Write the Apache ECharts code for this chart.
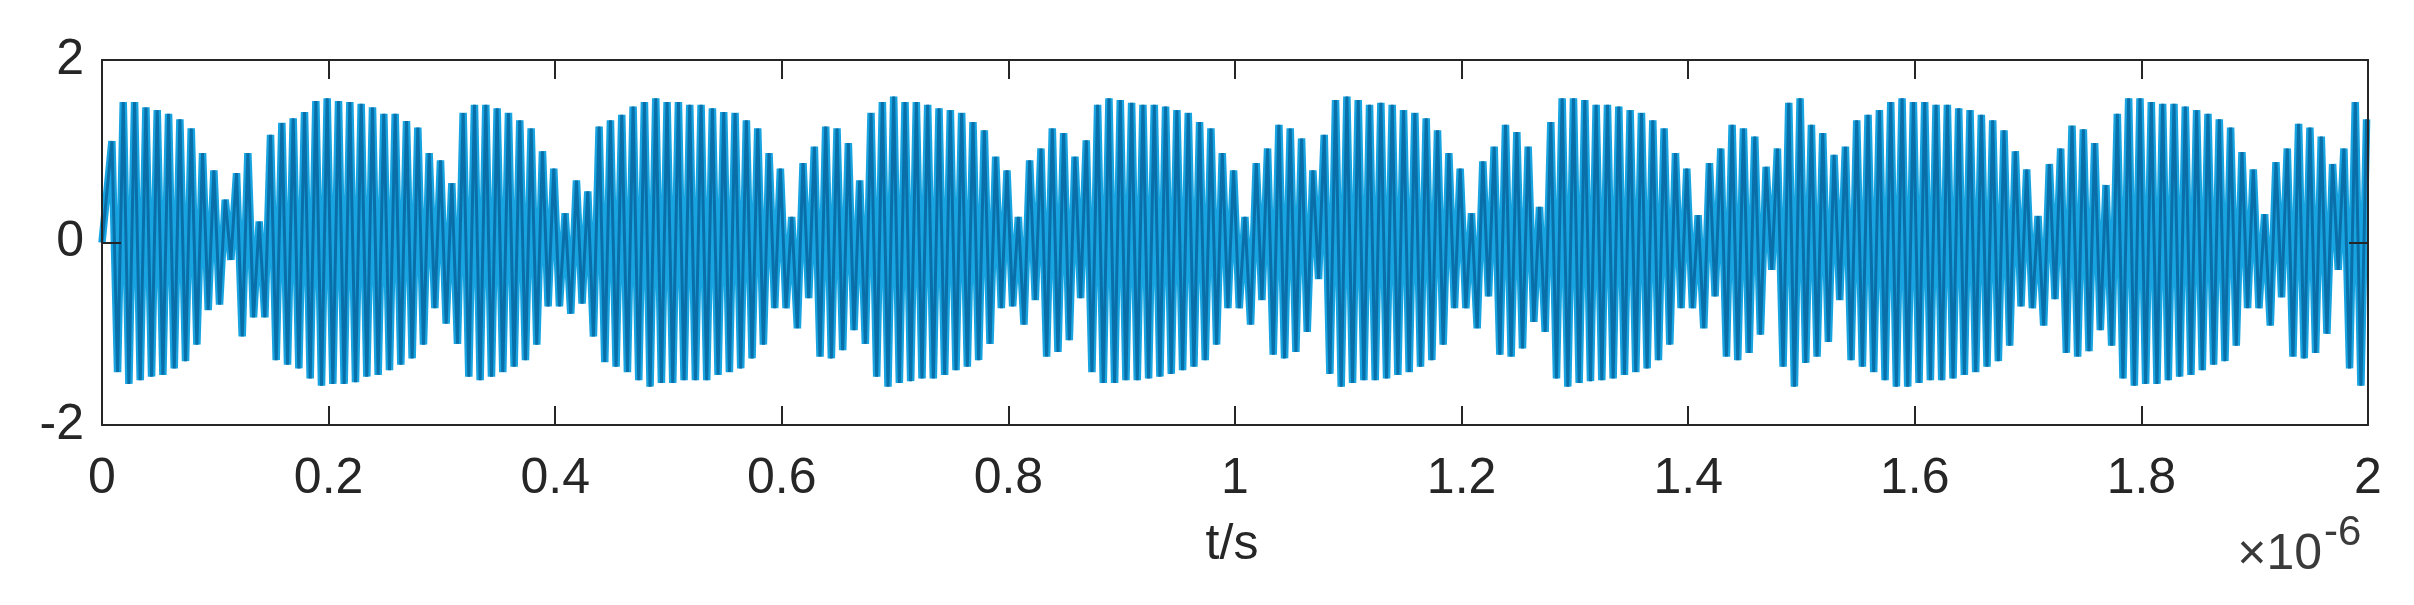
<!DOCTYPE html>
<html>
<head>
<meta charset="utf-8">
<script src="https://cdn.jsdelivr.net/npm/echarts@6/dist/echarts.min.js"></script>
<style>
  html, body { margin: 0; padding: 0; background: #ffffff; }
  #chart { width: 2414px; height: 605px; }
</style>
</head>
<body>
<div id="chart"></div>
<script>
// Carrier cycle length on the time axis (in units of 1e-6 s); one peak and one trough per cycle.
const cyclePeriod = 0.01;

// Positive peak of each carrier cycle
const peakValues = [
  1.11,1.54,1.54,1.48,1.45,1.41,1.35,1.25,0.98,0.79,
  0.47,0.76,0.98,0.23,1.18,1.31,1.36,1.43,1.55,1.58,
  1.55,1.54,1.52,1.48,1.41,1.41,1.33,1.26,0.98,0.90,
  0.65,1.42,1.51,1.51,1.47,1.42,1.34,1.25,1.00,0.81,
  0.32,0.68,0.56,1.27,1.34,1.40,1.49,1.54,1.58,1.54,
  1.54,1.51,1.51,1.47,1.43,1.42,1.34,1.25,0.98,0.81,
  0.28,0.87,1.05,1.27,1.25,1.09,0.68,1.42,1.54,1.60,
  1.54,1.54,1.51,1.47,1.45,1.42,1.32,1.23,0.94,0.79,
  0.28,0.90,1.03,1.25,1.20,0.94,1.12,1.51,1.58,1.56,
  1.53,1.51,1.51,1.49,1.45,1.42,1.32,1.25,0.98,0.79,
  0.28,0.87,1.03,1.29,1.25,1.14,0.79,1.18,1.56,1.60,
  1.56,1.51,1.53,1.51,1.45,1.42,1.36,1.23,0.98,0.81,
  0.32,0.89,1.05,1.29,1.21,1.05,0.39,1.32,1.58,1.58,
  1.56,1.51,1.51,1.49,1.45,1.42,1.34,1.25,0.98,0.81,
  0.30,0.87,1.03,1.29,1.25,1.16,0.83,1.03,1.53,1.58,
  1.29,1.20,0.96,1.05,1.34,1.40,1.45,1.54,1.58,1.54,
  1.54,1.51,1.51,1.47,1.45,1.40,1.34,1.23,1.00,0.80,
  0.29,0.86,1.03,1.28,1.24,1.09,0.63,1.41,1.58,1.58,
  1.54,1.52,1.52,1.49,1.45,1.41,1.35,1.26,0.99,0.80,
  0.31,0.88,1.03,1.30,1.26,1.16,0.86,1.03,1.54,1.35
];

// Negative trough of each carrier cycle
const troughValues = [
  -1.42,-1.55,-1.51,-1.47,-1.45,-1.38,-1.30,-1.12,-0.74,-0.68,
  -0.19,-1.03,-0.82,-0.82,-1.29,-1.34,-1.38,-1.49,-1.57,-1.55,
  -1.55,-1.53,-1.47,-1.45,-1.40,-1.34,-1.27,-1.12,-0.72,-0.89,
  -1.11,-1.47,-1.51,-1.47,-1.42,-1.36,-1.29,-1.12,-0.70,-0.70,
  -0.78,-0.67,-1.03,-1.31,-1.36,-1.42,-1.51,-1.58,-1.54,-1.54,
  -1.51,-1.51,-1.51,-1.45,-1.42,-1.38,-1.27,-1.12,-0.72,-0.72,
  -0.94,-0.61,-1.25,-1.27,-1.18,-0.96,-1.11,-1.47,-1.58,-1.54,
  -1.52,-1.49,-1.49,-1.45,-1.40,-1.36,-1.29,-1.11,-0.72,-0.70,
  -0.90,-0.63,-1.25,-1.20,-1.07,-0.61,-1.42,-1.54,-1.54,-1.51,
  -1.51,-1.49,-1.47,-1.44,-1.40,-1.36,-1.29,-1.12,-0.72,-0.72,
  -0.90,-0.63,-1.23,-1.27,-1.20,-0.98,-0.40,-1.44,-1.58,-1.54,
  -1.51,-1.51,-1.49,-1.45,-1.42,-1.36,-1.29,-1.12,-0.72,-0.72,
  -0.94,-0.59,-1.23,-1.25,-1.16,-0.87,-0.98,-1.49,-1.58,-1.54,
  -1.52,-1.51,-1.49,-1.45,-1.42,-1.38,-1.29,-1.12,-0.72,-0.72,
  -0.94,-0.59,-1.25,-1.29,-1.21,-1.01,-0.30,-1.36,-1.58,-1.32,
  -1.25,-1.09,-0.63,-1.29,-1.36,-1.42,-1.51,-1.58,-1.58,-1.54,
  -1.51,-1.51,-1.49,-1.45,-1.42,-1.36,-1.30,-1.13,-0.70,-0.72,
  -0.91,-0.62,-1.21,-1.25,-1.19,-0.96,-1.13,-1.49,-1.57,-1.55,
  -1.55,-1.51,-1.47,-1.45,-1.40,-1.34,-1.30,-1.13,-0.72,-0.72,
  -0.91,-0.60,-1.25,-1.27,-1.21,-1.00,-0.30,-1.38,-1.57
];

const startValue = 0;

// Tick labels
const xTicks = [0, 0.2, 0.4, 0.6, 0.8, 1, 1.2, 1.4, 1.6, 1.8, 2];
const yTicks = [-2, 0, 2];
const xAxisTitle = 't/s';
const xExponentBase = '×10';
const xExponent = '-6';

// Build the sampled signal (time on the 1e-6 s grid)
const signal = [[0, startValue]];
for (let k = 0; k < peakValues.length; k++) {
  signal.push([(k + 0.875) * cyclePeriod, peakValues[k]]);
  if (k < troughValues.length) {
    signal.push([(k + 1.375) * cyclePeriod, troughValues[k]]);
  }
}

const FONT = "'Liberation Sans', Arial, Helvetica, sans-serif";
const INK = '#262626';

const xStep = xTicks[1] - xTicks[0];
const yStep = yTicks[1] - yTicks[0];

function xAxisDef(pos, showLabel) {
  return {
    type: 'value',
    position: pos,
    min: xTicks[0],
    max: xTicks[xTicks.length - 1],
    interval: xStep,
    axisLine: { show: true, onZero: false, lineStyle: { color: INK, width: 2 } },
    axisTick: { show: true, inside: true, length: 19, lineStyle: { color: INK, width: 2 } },
    axisLabel: {
      show: showLabel, fontSize: 50, color: INK, fontFamily: FONT, margin: 29,
      formatter: v => String(+v.toFixed(1))
    },
    splitLine: { show: false },
    z: 5
  };
}
function yAxisDef(pos, showLabel) {
  return {
    type: 'value',
    position: pos,
    min: yTicks[0],
    max: yTicks[yTicks.length - 1],
    interval: yStep,
    axisLine: { show: true, onZero: false, lineStyle: { color: INK, width: 2 } },
    axisTick: { show: true, inside: true, length: 19, lineStyle: { color: INK, width: 2 } },
    axisLabel: { show: showLabel, fontSize: 50, color: INK, fontFamily: FONT, margin: 18,
                 padding: [12, 0, 0, 0] },
    splitLine: { show: false },
    z: 5
  };
}

const chart = echarts.init(document.getElementById('chart'), null, { renderer: 'canvas' });
chart.setOption({
  backgroundColor: '#ffffff',
  animation: false,
  grid: { left: 102, right: 46, top: 60, bottom: 180, containLabel: false },
  xAxis: [xAxisDef('bottom', true), xAxisDef('top', false)],
  yAxis: [yAxisDef('left', true), yAxisDef('right', false)],
  series: [
    {
      // light halo of the trace
      type: 'line', xAxisIndex: 0, yAxisIndex: 0,
      data: signal, showSymbol: false, sampling: null, clip: true,
      lineStyle: { color: '#18a4e0', width: 7.5 },
      silent: true, z: 1
    },
    {
      // darker core of the trace
      type: 'line', xAxisIndex: 0, yAxisIndex: 0,
      data: signal, showSymbol: false, sampling: null, clip: true,
      lineStyle: { color: '#0a6fa8', width: 3 },
      silent: true, z: 2
    }
  ],
  graphic: [
    {
      type: 'text',
      style: { text: xAxisTitle, x: 1232, y: 545, textAlign: 'center', textVerticalAlign: 'middle',
               font: '50px ' + FONT, fill: INK }
    },
    {
      type: 'text',
      style: { text: xExponentBase, x: 2322, y: 555, textAlign: 'right', textVerticalAlign: 'middle',
               font: '50px ' + FONT, fill: '#3a3a3a' }
    },
    {
      type: 'text',
      style: { text: xExponent, x: 2324, y: 533, textAlign: 'left', textVerticalAlign: 'middle',
               font: '42px ' + FONT, fill: '#3a3a3a' }
    }
  ]
});
</script>
</body>
</html>
